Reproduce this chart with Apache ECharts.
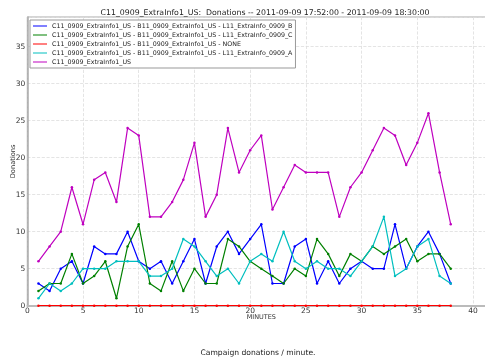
<!DOCTYPE html>
<html>
<head>
<meta charset="utf-8">
<script src="https://cdn.jsdelivr.net/npm/echarts@6/dist/echarts.min.js"></script>
<style>
html, body { margin: 0; padding: 0; background: #fff; }
#main { width: 485px; height: 360px; }
</style>
</head>
<body>
<div id="main"></div>
<script>
// 数据
var minutes = [1,2,3,4,5,6,7,8,9,10,11,12,13,14,15,16,17,18,19,20,21,22,23,24,25,26,27,28,29,30,31,32,33,34,35,36,37,38];
var lineB = [3,2,5,6,3,8,7,7,10,6,5,6,3,6,9,3,8,10,7,9,11,3,3,8,9,3,6,3,5,6,5,5,11,5,8,10,7,3];
var lineC = [2,3,3,7,3,4,6,1,8,11,3,2,6,2,5,3,3,9,8,6,5,4,3,5,4,9,7,4,7,6,8,7,8,9,6,7,7,5];
var lineNone = [0,0,0,0,0,0,0,0,0,0,0,0,0,0,0,0,0,0,0,0,0,0,0,0,0,0,0,0,0,0,0,0,0,0,0,0,0,0];
var lineA = [1,3,2,3,5,5,5,6,6,6,4,4,5,9,8,6,4,5,3,6,7,6,10,6,5,6,5,5,4,6,8,12,4,5,8,9,4,3];
var total = [6,8,10,16,11,17,18,14,24,23,12,12,14,17,22,12,15,24,18,21,23,13,16,19,18,18,18,12,16,18,21,24,23,19,22,26,18,11];

var names = [
    "C11_0909_ExtraInfo1_US - B11_0909_ExtraInfo1_US - L11_ExtraInfo_0909_B",
    "C11_0909_ExtraInfo1_US - B11_0909_ExtraInfo1_US - L11_ExtraInfo_0909_C",
    "C11_0909_ExtraInfo1_US - B11_0909_ExtraInfo1_US - NONE",
    "C11_0909_ExtraInfo1_US - B11_0909_ExtraInfo1_US - L11_ExtraInfo_0909_A",
    "C11_0909_ExtraInfo1_US"
];
var colors = ["#0000ff", "#008000", "#ff0000", "#00bfbf", "#bf00bf"];

var FONT = "DejaVu Sans";

function toPairs(vals) {
    var out = [];
    for (var i = 0; i < vals.length; i++) {
        out.push([minutes[i], vals[i]]);
    }
    return out;
}

function makeSeries(name, vals, color) {
    return {
        name: name,
        type: "line",
        data: toPairs(vals),
        symbol: "circle",
        symbolSize: 2.5,
        showSymbol: true,
        itemStyle: { color: color },
        lineStyle: { color: color, width: 1.2 },
        emphasis: { disabled: true },
        animation: false
    };
}

var chart = echarts.init(document.getElementById("main"));
var allData = [lineB, lineC, lineNone, lineA, total];
var series = [];
for (var i = 0; i < names.length; i++) {
    series.push(makeSeries(names[i], allData[i], colors[i]));
}

chart.setOption({
    animation: false,
    title: [
        {
            text: "C11_0909_ExtraInfo1_US:  Donations -- 2011-09-09 17:52:00 - 2011-09-09 18:30:00",
            left: 260,
            textAlign: "center",
            top: 4,
            textStyle: { fontSize: 7.8, fontWeight: "normal", color: "#222", fontFamily: FONT }
        },
        {
            text: "Campaign donations / minute.",
            left: 253,
            textAlign: "center",
            top: 344,
            textStyle: { fontSize: 7.6, fontWeight: "normal", color: "#222", fontFamily: FONT }
        }
    ],
    legend: {
        orient: "vertical",
        left: 30,
        top: 20,
        padding: [3, 3, 3, 3],
        itemGap: 3,
        itemWidth: 14,
        itemHeight: 8,
        backgroundColor: "#fff",
        borderColor: "#999",
        borderWidth: 1,
        data: names,
        icon: "path://M0,3.5 L14,3.5 L14,4.5 L0,4.5 Z",
        textStyle: { fontSize: 6.3, color: "#222", fontFamily: FONT, padding: [0, 0, 0, 0] }
    },
    grid: {
        left: 27.3,
        top: 17,
        width: 468,
        height: 288.7,
        outerBoundsMode: "none",
        containLabel: false,
        show: true,
        borderColor: "#aaa",
        borderWidth: 1
    },
    xAxis: {
        type: "value",
        min: 0,
        max: 42,
        interval: 5,
        name: "MINUTES",
        nameLocation: "middle",
        nameGap: 8.5,
        nameMoveOverlap: false,
        nameTextStyle: { fontSize: 6.5, color: "#333", fontFamily: FONT },
        axisLine: { show: true, lineStyle: { color: "#bbb", width: 2 } },
        axisTick: { show: false },
        axisLabel: { fontSize: 7.5, color: "#333", fontFamily: FONT, margin: 1, showMaxLabel: false },
        splitLine: { show: true, lineStyle: { color: "#ddd", type: "dashed", width: 0.8 } }
    },
    yAxis: {
        type: "value",
        min: 0,
        max: 39,
        interval: 5,
        name: "Donations",
        nameLocation: "middle",
        nameGap: 10.5,
        nameMoveOverlap: false,
        nameTextStyle: { fontSize: 6.7, color: "#333", fontFamily: FONT },
        axisLine: { show: true, lineStyle: { color: "#aaa", width: 1.5 } },
        axisTick: { show: false },
        axisLabel: { fontSize: 7.5, color: "#333", fontFamily: FONT, margin: 2, showMaxLabel: false },
        splitLine: { show: true, lineStyle: { color: "#ddd", type: "dashed", width: 0.8 } }
    },
    series: series
});
</script>
</body>
</html>
